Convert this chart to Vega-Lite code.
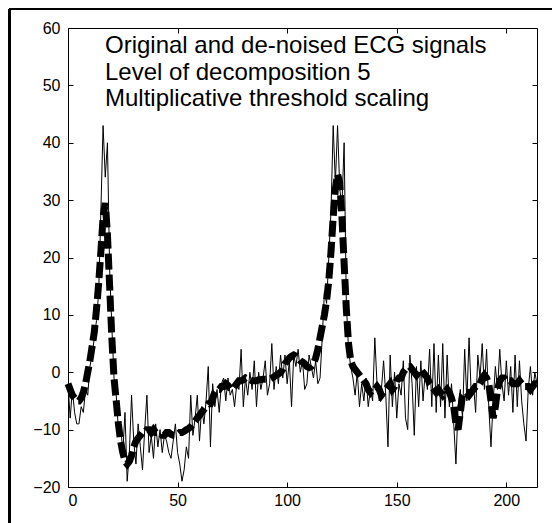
{
  "$schema": "https://vega.github.io/schema/vega-lite/v6.json",
  "width": 469,
  "height": 459,
  "autosize": {"type": "none"},
  "padding": {"left": 68, "top": 28, "right": 15, "bottom": 36},
  "background": "white",
  "config": {
    "view": {"stroke": "black", "strokeWidth": 1},
    "axis": {"grid": false, "domain": false, "labelFont": "Liberation Sans", "labelFontSize": 16, "labelColor": "black", "tickColor": "black", "tickSize": -5, "labelPadding": 13}
  },
  "title": {
    "text": ["Original and de-noised ECG signals", "Level of decomposition 5", "Multiplicative threshold scaling"],
    "anchor": "start", "frame": "group", "orient": "top", "baseline": "top",
    "dx": 37, "dy": 107, "offset": 4,
    "font": "Liberation Sans", "fontSize": 24, "fontWeight": "normal", "color": "black", "lineHeight": 26.5
  },
  "data": {"values": [
{"t":0,"orig":-2,"den":-2},{"t":1,"orig":-8,"den":-3},{"t":2,"orig":-3,"den":-4},{"t":3,"orig":-7,"den":-4.5},{"t":4,"orig":-9,"den":-5},
{"t":5,"orig":-9,"den":-5},{"t":6,"orig":-6,"den":-4.5},{"t":7,"orig":-7,"den":-3.5},{"t":8,"orig":-3,"den":-2},{"t":9,"orig":-4,"den":0},
{"t":10,"orig":1,"den":2},{"t":11,"orig":3,"den":4.5},{"t":12,"orig":6,"den":7},{"t":13,"orig":9,"den":11},{"t":14,"orig":14,"den":15.5},
{"t":15,"orig":28,"den":21},{"t":16,"orig":43,"den":27},{"t":17,"orig":34,"den":29.5},{"t":18,"orig":40,"den":24},{"t":19,"orig":18,"den":15},
{"t":20,"orig":8,"den":6},{"t":21,"orig":-1,"den":-1},{"t":22,"orig":-4,"den":-5},{"t":23,"orig":-10,"den":-9},{"t":24,"orig":-9,"den":-12},
{"t":25,"orig":-14,"den":-14},{"t":26,"orig":-7,"den":-15.5},{"t":27,"orig":-19,"den":-16},{"t":28,"orig":-14,"den":-15.5},{"t":29,"orig":-4,"den":-14.5},
{"t":30,"orig":-12,"den":-13},{"t":31,"orig":-16,"den":-12},{"t":32,"orig":-9,"den":-11.5},{"t":33,"orig":-13,"den":-11},{"t":34,"orig":-17,"den":-10.5},
{"t":35,"orig":-10,"den":-10.5},{"t":36,"orig":-4,"den":-10},{"t":37,"orig":-14,"den":-10},{"t":38,"orig":-11,"den":-10.5},{"t":39,"orig":-15,"den":-10},
{"t":40,"orig":-9,"den":-10.5},{"t":41,"orig":-13,"den":-10.5},{"t":42,"orig":-10,"den":-10.5},{"t":43,"orig":-14,"den":-11},{"t":44,"orig":-11,"den":-11},
{"t":45,"orig":-12,"den":-10.5},{"t":46,"orig":-14,"den":-10.5},{"t":47,"orig":-15,"den":-10.8},{"t":48,"orig":-12,"den":-11},{"t":49,"orig":-9,"den":-11},
{"t":50,"orig":-14,"den":-10.8},{"t":51,"orig":-16,"den":-10.5},{"t":52,"orig":-19,"den":-10.5},{"t":53,"orig":-17,"den":-10.3},{"t":54,"orig":-13,"den":-10},
{"t":55,"orig":-15,"den":-9.8},{"t":56,"orig":-4,"den":-9.5},{"t":57,"orig":-11,"den":-9},{"t":58,"orig":-8,"den":-8.5},{"t":59,"orig":-4,"den":-8},
{"t":60,"orig":-12,"den":-7.5},{"t":61,"orig":-6,"den":-7},{"t":62,"orig":-9,"den":-6.5},{"t":63,"orig":-5,"den":-6},{"t":64,"orig":1,"den":-5.5},
{"t":65,"orig":-13,"den":-5.5},{"t":66,"orig":-2,"den":-4.5},{"t":67,"orig":-6,"den":-3.5},{"t":68,"orig":-3,"den":-3},{"t":69,"orig":-7,"den":-3},
{"t":70,"orig":-2,"den":-2.5},{"t":71,"orig":-1,"den":-2.5},{"t":72,"orig":-5,"den":-2},{"t":73,"orig":-1,"den":-2.3},{"t":74,"orig":-4,"den":-2.8},
{"t":75,"orig":-3,"den":-3},{"t":76,"orig":-6,"den":-2.5},{"t":77,"orig":-2,"den":-2},{"t":78,"orig":-3,"den":-1.5},{"t":79,"orig":4,"den":-1.5},
{"t":80,"orig":-6,"den":-1.3},{"t":81,"orig":-1,"den":-1},{"t":82,"orig":-4,"den":-1.2},{"t":83,"orig":0,"den":-1.3},{"t":84,"orig":-3,"den":-1.5},
{"t":85,"orig":2,"den":-1.5},{"t":86,"orig":-6,"den":-1.5},{"t":87,"orig":0,"den":-1.3},{"t":88,"orig":-3,"den":-1.3},{"t":89,"orig":-1,"den":-1.2},
{"t":90,"orig":2,"den":-1.2},{"t":91,"orig":-4,"den":-1.2},{"t":92,"orig":-2,"den":-1.2},{"t":93,"orig":5,"den":-1},{"t":94,"orig":-3,"den":-0.8},
{"t":95,"orig":1,"den":-0.5},{"t":96,"orig":-2,"den":-0.3},{"t":97,"orig":3,"den":0},{"t":98,"orig":-1,"den":0.5},{"t":99,"orig":3,"den":1.5},
{"t":100,"orig":-2,"den":2},{"t":101,"orig":2,"den":2.5},{"t":102,"orig":-6,"den":2.8},{"t":103,"orig":3,"den":3},{"t":104,"orig":1,"den":2.8},
{"t":105,"orig":4,"den":2.5},{"t":106,"orig":0,"den":2},{"t":107,"orig":2,"den":1.8},{"t":108,"orig":-3,"den":1.5},{"t":109,"orig":-2,"den":1},
{"t":110,"orig":3,"den":0.8},{"t":111,"orig":1,"den":1},{"t":112,"orig":-1,"den":1.5},{"t":113,"orig":2,"den":2.5},{"t":114,"orig":-2,"den":4},
{"t":115,"orig":-1,"den":6},{"t":116,"orig":6,"den":8},{"t":117,"orig":14,"den":10},{"t":118,"orig":12,"den":12.5},{"t":119,"orig":20,"den":16},
{"t":120,"orig":28,"den":21},{"t":121,"orig":43,"den":27},{"t":122,"orig":33,"den":32},{"t":123,"orig":43,"den":34.5},{"t":124,"orig":32,"den":33},
{"t":125,"orig":29,"den":27},{"t":126,"orig":40,"den":19},{"t":127,"orig":12,"den":11},{"t":128,"orig":4,"den":5},{"t":129,"orig":1,"den":2},
{"t":130,"orig":-1,"den":1},{"t":131,"orig":-4,"den":0.5},{"t":132,"orig":0,"den":0},{"t":133,"orig":-6,"den":-0.5},{"t":134,"orig":-2,"den":-1},
{"t":135,"orig":-5,"den":-1.5},{"t":136,"orig":-1,"den":-2},{"t":137,"orig":-6,"den":-3},{"t":138,"orig":-3,"den":-3.5},{"t":139,"orig":-5,"den":-3},
{"t":140,"orig":6,"den":-3},{"t":141,"orig":-2,"den":-2.5},{"t":142,"orig":-5,"den":-3},{"t":143,"orig":-3,"den":-4},{"t":144,"orig":2,"den":-3.5},
{"t":145,"orig":-4,"den":-3},{"t":146,"orig":-13,"den":-2.5},{"t":147,"orig":3,"den":-2},{"t":148,"orig":-6,"den":-3},{"t":149,"orig":0,"den":-2.5},
{"t":150,"orig":-8,"den":-1.5},{"t":151,"orig":-2,"den":-1},{"t":152,"orig":-4,"den":-1},{"t":153,"orig":2,"den":0},{"t":154,"orig":-8,"den":0.5},
{"t":155,"orig":-10,"den":1},{"t":156,"orig":3,"den":1},{"t":157,"orig":-2,"den":0.5},{"t":158,"orig":-11,"den":0},{"t":159,"orig":1,"den":-0.5},
{"t":160,"orig":-6,"den":0},{"t":161,"orig":2,"den":0.5},{"t":162,"orig":-5,"den":0},{"t":163,"orig":0,"den":-0.5},{"t":164,"orig":-3,"den":-1},
{"t":165,"orig":4,"den":-2},{"t":166,"orig":-6,"den":-2.5},{"t":167,"orig":5,"den":-3},{"t":168,"orig":-7,"den":-3.5},{"t":169,"orig":3,"den":-3},
{"t":170,"orig":-6,"den":-3.5},{"t":171,"orig":5,"den":-4},{"t":172,"orig":-8,"den":-3.5},{"t":173,"orig":3,"den":-3},{"t":174,"orig":-6,"den":-3.5},
{"t":175,"orig":-2,"den":-4.5},{"t":176,"orig":-9,"den":-6},{"t":177,"orig":-16,"den":-9},{"t":178,"orig":-6,"den":-10},{"t":179,"orig":-3,"den":-7},
{"t":180,"orig":-8,"den":-4},{"t":181,"orig":4,"den":-3.5},{"t":182,"orig":-5,"den":-3.5},{"t":183,"orig":6,"den":-4},{"t":184,"orig":-4,"den":-3.5},
{"t":185,"orig":-2,"den":-3},{"t":186,"orig":-7,"den":-2.5},{"t":187,"orig":3,"den":-2.5},{"t":188,"orig":-1,"den":-2},{"t":189,"orig":5,"den":-1},
{"t":190,"orig":-3,"den":-0.5},{"t":191,"orig":4,"den":-1},{"t":192,"orig":-6,"den":-2},{"t":193,"orig":-13,"den":-5},{"t":194,"orig":-5,"den":-8},
{"t":195,"orig":1,"den":-6},{"t":196,"orig":-3,"den":-3},{"t":197,"orig":4,"den":-1.5},{"t":198,"orig":-2,"den":-1},{"t":199,"orig":-5,"den":-1},
{"t":200,"orig":2,"den":-1.5},{"t":201,"orig":-4,"den":-1.5},{"t":202,"orig":1,"den":-1.5},{"t":203,"orig":-7,"den":-2},{"t":204,"orig":3,"den":-2},
{"t":205,"orig":-6,"den":-2},{"t":206,"orig":2,"den":-1.5},{"t":207,"orig":-5,"den":-2},{"t":208,"orig":-9,"den":-2.5},{"t":209,"orig":-12,"den":-2.5},
{"t":210,"orig":-3,"den":-2.5},{"t":211,"orig":1,"den":-3},{"t":212,"orig":-4,"den":-2.5},{"t":213,"orig":0,"den":-2},{"t":214,"orig":-2,"den":-2}
  ]},
  "layer": [
    {
      "mark": {"type": "line", "color": "black", "strokeWidth": 1, "interpolate": "linear"},
      "encoding": {
        "x": {"field": "t", "type": "quantitative", "scale": {"domain": [0, 214], "nice": false, "zero": false}, "axis": {"orient": "bottom", "title": null, "labelPadding": 10, "values": [0, 50, 100, 150, 200]}},
        "y": {"field": "orig", "type": "quantitative", "scale": {"domain": [-20, 60], "nice": false, "zero": false}, "axis": {"orient": "left", "title": null, "values": [-20, -10, 0, 10, 20, 30, 40, 50, 60]}}
      }
    },
    {
      "mark": {"type": "line", "color": "black", "strokeWidth": 7, "strokeDash": [16, 5], "strokeCap": "butt"},
      "encoding": {
        "x": {"field": "t", "type": "quantitative", "axis": {"orient": "top", "title": null, "labels": false, "values": [0, 50, 100, 150, 200]}},
        "y": {"field": "den", "type": "quantitative", "axis": {"orient": "right", "title": null, "labels": false, "values": [-20, -10, 0, 10, 20, 30, 40, 50, 60]}}
      }
    },
    {
      "mark": {"type": "rule", "color": "black", "strokeWidth": 2, "clip": false},
      "encoding": {
        "x": {"datum": -26.9, "type": "quantitative", "axis": null},
        "y": {"datum": 63.3, "type": "quantitative", "axis": null},
        "y2": {"datum": -35}
      }
    },
    {
      "mark": {"type": "rule", "color": "black", "strokeWidth": 2, "clip": false},
      "encoding": {
        "y": {"datum": 63.3, "type": "quantitative", "axis": null},
        "x": {"datum": -26.9, "type": "quantitative", "axis": null},
        "x2": {"datum": 250}
      }
    }
  ],
  "resolve": {"axis": {"x": "independent", "y": "independent"}}
}
